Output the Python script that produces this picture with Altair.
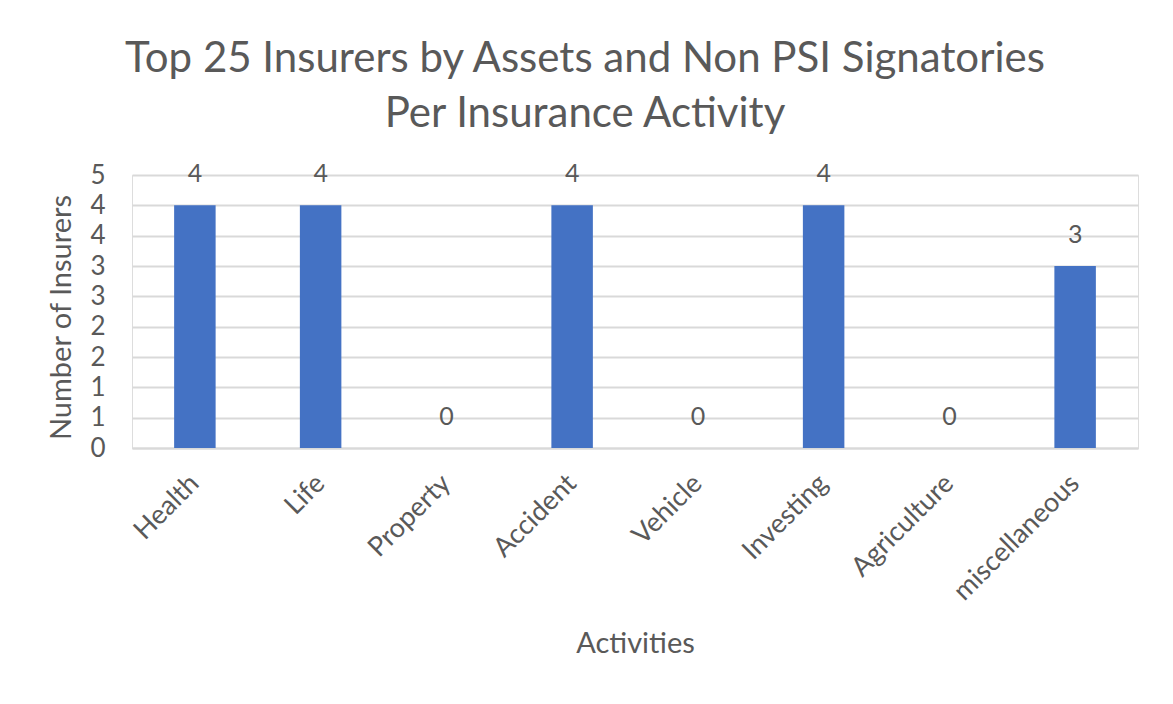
import altair as alt
import pandas as pd

categories = ["Health", "Life", "Property", "Accident", "Vehicle",
              "Investing", "Agriculture", "miscellaneous"]
values = [4, 4, 0, 4, 0, 4, 0, 3]
y_ticks = [0, 0.5, 1, 1.5, 2, 2.5, 3, 3.5, 4, 4.5]
title_lines = ["Top 25 Insurers by Assets and Non PSI Signatories",
               "Per Insurance Activity"]

df = pd.DataFrame({"Activity": categories, "Count": values})

FONT = "Lato"
GRAY = "#595959"
GRID = "#d9d9d9"

x = alt.X(
    "Activity:N", sort=categories,
    scale=alt.Scale(paddingInner=0.67, paddingOuter=0.335),
    axis=alt.Axis(
        title="Activities", labelAngle=-45, labelAlign="right",
        labelBaseline="middle", labelPadding=31, ticks=False,
        domainColor=GRID, domainWidth=2, labelFont=FONT, labelFontSize=27,
        labelColor=GRAY, titleFont=FONT, titleFontSize=29,
        titleFontWeight="normal", titleColor=GRAY, titleY=195,
        titleBaseline="middle",
    ),
)
y = alt.Y(
    "Count:Q",
    scale=alt.Scale(domain=[0, 4.5], nice=False, zero=True),
    axis=alt.Axis(
        values=y_ticks, format=".0f", title="Number of Insurers",
        domain=False, ticks=False, labelPadding=27, gridColor=GRID,
        gridWidth=2, labelFont=FONT, labelFontSize=26, labelColor=GRAY,
        titleFont=FONT, titleFontSize=29, titleFontWeight="normal",
        titleColor=GRAY, titleX=-56, titleY=142,
    ),
)

bars = alt.Chart(df).mark_bar(color="#4472C4").encode(x=x, y=y)
labels = alt.Chart(df).mark_text(
    dy=-31, fontSize=25, font=FONT, color=GRAY, baseline="middle"
).encode(x=x, y=y, text="Count:Q")

chart = (bars + labels).properties(
    width=1006, height=273,
    padding={"left": 124, "top": 167, "right": 27, "bottom": 248},
    autosize=alt.AutoSizeParams(type="none"),
    title=alt.TitleParams(
        text=title_lines, fontSize=42, font=FONT, color=GRAY,
        fontWeight="normal", anchor="middle", dx=-50, offset=26,
        lineHeight=55,
    ),
).configure_view(stroke=None).configure(background="white")

chart.save("out.html", embed_options={"renderer": "svg", "actions": False})
